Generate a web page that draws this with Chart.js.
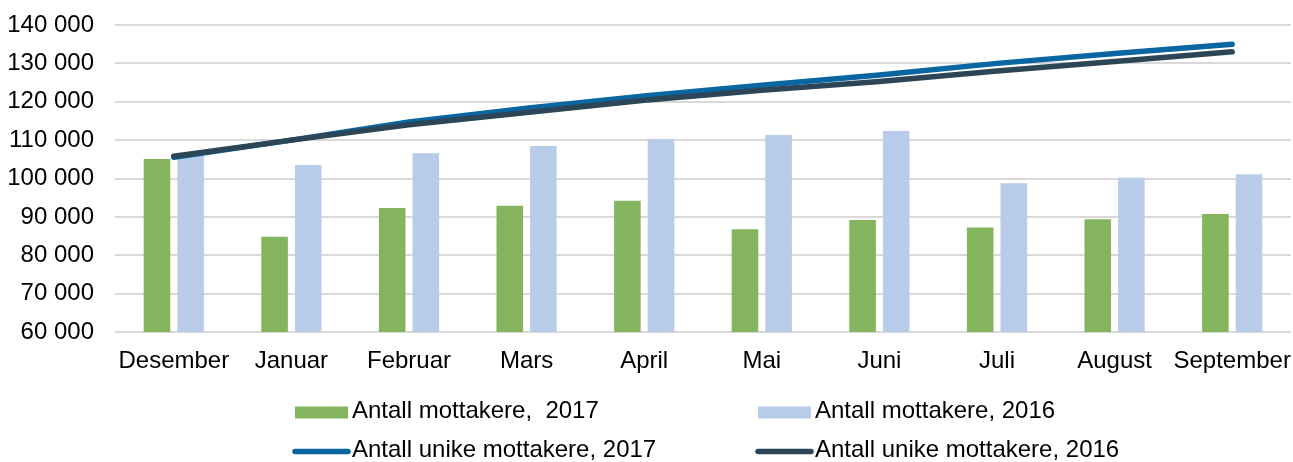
<!DOCTYPE html>
<html>
<head>
<meta charset="utf-8">
<script src="https://cdn.jsdelivr.net/npm/chart.js@4/dist/chart.umd.min.js"></script>
<style>
  html, body { margin: 0; padding: 0; background: #fff; }
  #wrap { width: 1293px; height: 462px; position: relative; }
</style>
</head>
<body>
<div id="wrap"><canvas id="c"></canvas></div>
<script>
// ---- data ----
const categories = ['Desember','Januar','Februar','Mars','April','Mai','Juni','Juli','August','September'];
const mottakere2017 = [105100, 84800, 92300, 92900, 94200, 86750, 89200, 87200, 89400, 90750];
const mottakere2016 = [106000, 103500, 106550, 108450, 110300, 111350, 112400, 98750, 100200, 101100];
const unike2017 = [105500, 110000, 114700, 118300, 121500, 124300, 127000, 130000, 132600, 135000];
const unike2016 = [105800, 110000, 114000, 117200, 120400, 123000, 125300, 128000, 130500, 133000];
const yTicks = [60000, 70000, 80000, 90000, 100000, 110000, 120000, 130000, 140000];
const seriesLabels = ['Antall mottakere,  2017', 'Antall mottakere, 2016', 'Antall unike mottakere, 2017', 'Antall unike mottakere, 2016'];

const FONT = "'Liberation Sans', Arial, sans-serif";
const fmt = v => String(v).replace(/\B(?=(\d{3})+(?!\d))/g, ' ');

const legendPlugin = {
  id: 'customLegend',
  afterDraw(chart) {
    const ctx = chart.ctx;
    const ds = chart.data.datasets;
    const slots = [
      {x: 295, y: 412.5}, {x: 758, y: 412.5},
      {x: 295, y: 451.5}, {x: 758, y: 451.5}
    ];
    ctx.save();
    ctx.font = '24px ' + FONT;
    ctx.textBaseline = 'middle';
    ds.forEach((d, i) => {
      const s = slots[i];
      if (d.type === 'bar') {
        ctx.fillStyle = d.backgroundColor;
        ctx.fillRect(s.x, s.y - 6, 53, 12);
      } else {
        ctx.strokeStyle = d.borderColor;
        ctx.lineWidth = 5.5;
        ctx.lineCap = 'round';
        ctx.beginPath();
        ctx.moveTo(s.x, s.y);
        ctx.lineTo(s.x + 53, s.y);
        ctx.stroke();
      }
      ctx.fillStyle = '#000';
      ctx.fillText(d.label, s.x + 57, s.y - 1);
    });
    ctx.restore();
  }
};

new Chart(document.getElementById('c'), {
  data: {
    labels: categories,
    datasets: [
      { type: 'bar', label: seriesLabels[0], data: mottakere2017, backgroundColor: '#84b45d', order: 2,
        categoryPercentage: 0.572, barPercentage: 0.79 },
      { type: 'bar', label: seriesLabels[1], data: mottakere2016, backgroundColor: '#b8cbe8', order: 3,
        categoryPercentage: 0.572, barPercentage: 0.79 },
      { type: 'line', label: seriesLabels[2], data: unike2017, borderColor: '#0a66a1', backgroundColor: '#0a66a1',
        borderWidth: 5.5, borderCapStyle: 'round', borderJoinStyle: 'round', pointRadius: 0, tension: 0, order: 1 },
      { type: 'line', label: seriesLabels[3], data: unike2016, borderColor: '#2d4657', backgroundColor: '#2d4657',
        borderWidth: 5.5, borderCapStyle: 'round', borderJoinStyle: 'round', pointRadius: 0, tension: 0, order: 0 }
    ]
  },
  options: {
    responsive: true,
    maintainAspectRatio: false,
    animation: false,
    layout: { padding: { top: 25, right: 2, bottom: 0, left: 0 } },
    plugins: { legend: { display: false }, tooltip: { enabled: false } },
    scales: {
      x: {
        grid: { display: false, drawTicks: false },
        border: { display: false },
        ticks: { color: '#000', font: { family: FONT, size: 24 }, padding: 15, maxRotation: 0, autoSkip: false },
        afterFit(s) { s.height = 130; s.paddingLeft = 0; s.paddingRight = 0; s.paddingTop = 0; s.paddingBottom = 0; }
      },
      y: {
        min: 60000, max: 140000,
        afterBuildTicks(s) { s.ticks = yTicks.map(v => ({ value: v })); },
        grid: { color: '#d9d9d9', lineWidth: 2, drawTicks: false },
        border: { display: false },
        ticks: { color: '#000', font: { family: FONT, size: 24 }, padding: 21, callback: v => fmt(v) },
        afterFit(s) { s.width = 115; s.paddingLeft = 0; s.paddingRight = 0; s.paddingTop = 0; s.paddingBottom = 0; }
      }
    }
  },
  plugins: [legendPlugin]
});
</script>
</body>
</html>
